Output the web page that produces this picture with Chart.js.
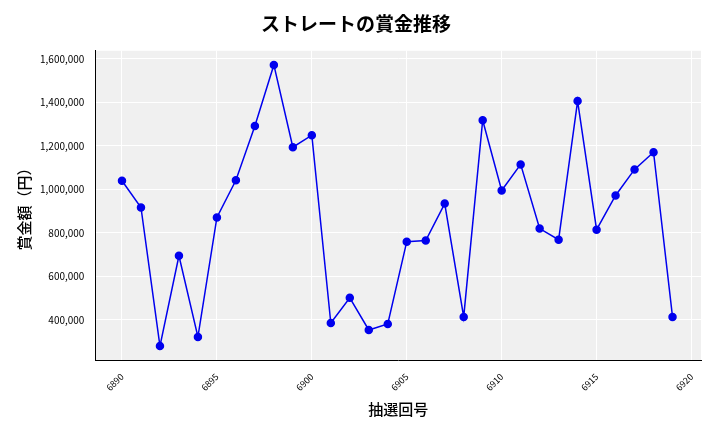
<!DOCTYPE html>
<html>
<head>
  <style>
    body { margin: 0; padding: 0; background: #fff; }
    #wrap { width: 720px; height: 432px; }
  </style>
  <script src="https://cdn.jsdelivr.net/npm/chart.js"></script>
</head>
<body>
  <div id="wrap"><canvas id="chart" width="720" height="432"></canvas></div>
  <script>
    const draws = [6890,6891,6892,6893,6894,6895,6896,6897,6898,6899,6900,6901,6902,6903,6904,
                   6905,6906,6907,6908,6909,6910,6911,6912,6913,6914,6915,6916,6917,6918,6919];
    const prizes = [1040000,917000,280000,695000,322000,871000,1042000,1291000,1572000,1194000,
                    1249000,386000,502000,354000,382000,760000,765000,935000,414000,1318000,
                    995000,1115000,820000,769000,1406000,815000,972000,1092000,1171000,414000];
    const xTicks = [6890,6895,6900,6905,6910,6915,6920];
    const yTicks = [400000,600000,800000,1000000,1200000,1400000,1600000];

    const font = "'Noto Sans CJK JP', 'Noto Sans', sans-serif";

    // plot area background
    const bgPlugin = {
      id: "bg",
      beforeDraw(c) {
        const a = c.chartArea, g = c.ctx;
        g.save();
        g.fillStyle = "#f0f0f0";
        g.fillRect(a.left, a.top, a.right - a.left, a.bottom - a.top);
        g.restore();
      }
    };

    new Chart(document.getElementById("chart"), {
      type: "line",
      data: {
        datasets: [{
          data: draws.map((d, i) => ({ x: d, y: prizes[i] })),
          borderColor: "#0000ee",
          backgroundColor: "#0000ee",
          borderWidth: 1.5,
          pointRadius: 3.5,
          tension: 0
        }]
      },
      options: {
        responsive: false,
        animation: false,
        layout: { padding: { left: 11, right: 19, top: 10, bottom: 10 } },
        plugins: {
          legend: { display: false },
          tooltip: { enabled: false },
          title: {
            display: true,
            text: "ストレートの賞金推移",
            color: "#000",
            font: { family: font, size: 19, weight: "bold" },
            padding: { top: 2, bottom: 16 }
          }
        },
        scales: {
          x: {
            type: "linear",
            min: 6888.6,
            max: 6920.5,
            afterBuildTicks(s) { s.ticks = xTicks.map(v => ({ value: v })); },
            grid: { color: "#ffffff", lineWidth: 1 },
            border: { color: "#000" },
            ticks: { color: "#000", font: { family: font, size: 9 }, maxRotation: 45, minRotation: 45,
                     callback: v => String(v) },
            title: { display: true, text: "抽選回号", color: "#000", font: { family: font, size: 15, weight: "500" } }
          },
          y: {
            min: 215000,
            max: 1637000,
            afterBuildTicks(s) { s.ticks = yTicks.map(v => ({ value: v })); },
            grid: { color: "#ffffff", lineWidth: 1 },
            border: { color: "#000" },
            ticks: { color: "#000", font: { family: font, size: 10 },
                     callback: v => v.toLocaleString("en-US") },
            title: { display: true, text: "賞金額（円）", color: "#000", font: { family: font, size: 15, weight: "500" } }
          }
        }
      },
      plugins: [bgPlugin]
    });
  </script>
</body>
</html>
